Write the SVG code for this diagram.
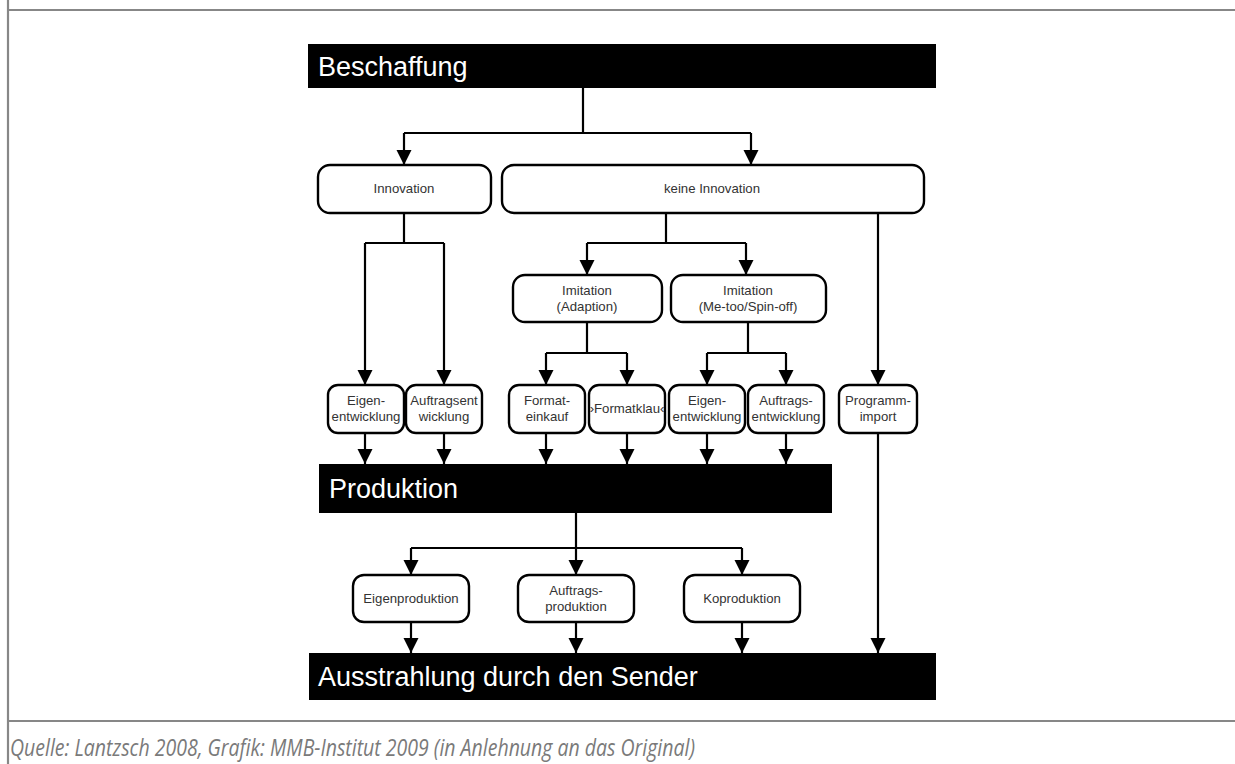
<svg xmlns="http://www.w3.org/2000/svg" width="1235" height="764" viewBox="0 0 1235 764">
<style>
.frame{stroke:#878787;stroke-width:2.2;fill:none}
.bar{fill:#000}
.bt{fill:#fff;font-family:"Liberation Sans",Arial,sans-serif;font-size:27px}
.box{fill:#fff;stroke:#000;stroke-width:2.4}
.t{fill:#333;font-family:"Liberation Sans",Arial,sans-serif;font-size:13.2px;text-anchor:middle}
.ln{fill:none;stroke:#000;stroke-width:2.2}
.ar{fill:none;stroke:#000;stroke-width:2.2;marker-end:url(#ah)}
.cap{fill:#7a7a7a;font-family:"Open Sans","Liberation Sans",sans-serif;font-style:italic;font-size:23px}
</style>
<defs>
<marker id="ah" markerUnits="userSpaceOnUse" markerWidth="16" markerHeight="16" refX="15" refY="7.5" orient="auto">
<path d="M0,0 L15,7.5 L0,15 Z" fill="#000"/>
</marker>
</defs>
<rect width="1235" height="764" fill="#fff"/>
<g id="frame">
<line class="frame" x1="8" y1="0" x2="8" y2="764"/>
<line class="frame" x1="8" y1="10" x2="1235" y2="10"/>
<line class="frame" x1="8" y1="721" x2="1235" y2="721"/>
</g>
<g id="connectors">
<path class="ln" d="M583,88 V133 M404,133 H751"/>
<path class="ar" d="M404,133 V165"/>
<path class="ar" d="M751,133 V165"/>
<path class="ln" d="M404,213 V243 M365,243 H444"/>
<path class="ar" d="M365,243 V385"/>
<path class="ar" d="M444,243 V385"/>
<path class="ln" d="M666,213 V243 M587,243 H746"/>
<path class="ar" d="M587,243 V275"/>
<path class="ar" d="M746,243 V275"/>
<path class="ar" d="M878,213 V385"/>
<path class="ln" d="M587,322 V353 M546,353 H627"/>
<path class="ar" d="M546,353 V385"/>
<path class="ar" d="M627,353 V385"/>
<path class="ln" d="M748,322 V353 M707,353 H786"/>
<path class="ar" d="M707,353 V385"/>
<path class="ar" d="M786,353 V385"/>
<path class="ar" d="M365,433 V464"/>
<path class="ar" d="M444,433 V464"/>
<path class="ar" d="M546,433 V464"/>
<path class="ar" d="M627,433 V464"/>
<path class="ar" d="M707,433 V464"/>
<path class="ar" d="M786,433 V464"/>
<path class="ar" d="M878,433 V653"/>
<path class="ln" d="M576,513 V548 M411,548 H742"/>
<path class="ar" d="M411,548 V575"/>
<path class="ar" d="M576,548 V575"/>
<path class="ar" d="M742,548 V575"/>
<path class="ar" d="M411,622 V653"/>
<path class="ar" d="M576,622 V653"/>
<path class="ar" d="M742,622 V653"/>
</g>
<g id="beschaffung">
<rect class="bar" x="308" y="44" width="628" height="44"/>
<text class="bt" x="318" y="76">Beschaffung</text>
</g>
<g id="innovation">
<rect class="box" x="318" y="165" width="173" height="48" rx="12"/>
<text class="t" x="404" y="193">Innovation</text>
</g>
<g id="keine-innovation">
<rect class="box" x="502" y="165" width="422" height="48" rx="12"/>
<text class="t" x="712" y="193">keine Innovation</text>
</g>
<g id="imitation-adaption">
<rect class="box" x="513" y="275" width="149" height="47" rx="12"/>
<text class="t" x="587" y="295">Imitation</text>
<text class="t" x="587" y="311">(Adaption)</text>
</g>
<g id="imitation-metoo">
<rect class="box" x="671" y="275" width="155" height="47" rx="12"/>
<text class="t" x="748" y="295">Imitation</text>
<text class="t" x="748" y="311">(Me-too/Spin-off)</text>
</g>
<g id="eigenentwicklung-1">
<rect class="box" x="328" y="385" width="76" height="48" rx="10"/>
<text class="t" x="366" y="405">Eigen-</text>
<text class="t" x="366" y="421">entwicklung</text>
</g>
<g id="auftragsentwicklung-1">
<rect class="box" x="406" y="385" width="76" height="48" rx="10"/>
<text class="t" x="444" y="405">Auftragsent</text>
<text class="t" x="444" y="421">wicklung</text>
</g>
<g id="formateinkauf">
<rect class="box" x="509" y="385" width="76" height="48" rx="10"/>
<text class="t" x="547" y="405">Format-</text>
<text class="t" x="547" y="421">einkauf</text>
</g>
<g id="formatklau">
<rect class="box" x="589" y="385" width="76" height="48" rx="10"/>
<text class="t" x="627" y="413">›Formatklau‹</text>
</g>
<g id="eigenentwicklung-2">
<rect class="box" x="669" y="385" width="76" height="48" rx="10"/>
<text class="t" x="707" y="405">Eigen-</text>
<text class="t" x="707" y="421">entwicklung</text>
</g>
<g id="auftragsentwicklung-2">
<rect class="box" x="748" y="385" width="76" height="48" rx="10"/>
<text class="t" x="786" y="405">Auftrags-</text>
<text class="t" x="786" y="421">entwicklung</text>
</g>
<g id="programmimport">
<rect class="box" x="839" y="385" width="78" height="48" rx="10"/>
<text class="t" x="878" y="405">Programm-</text>
<text class="t" x="878" y="421">import</text>
</g>
<g id="produktion">
<rect class="bar" x="319" y="464" width="513" height="49"/>
<text class="bt" x="329" y="498">Produktion</text>
</g>
<g id="eigenproduktion">
<rect class="box" x="353" y="575" width="116" height="47" rx="11"/>
<text class="t" x="411" y="603">Eigenproduktion</text>
</g>
<g id="auftragsproduktion">
<rect class="box" x="518" y="575" width="116" height="47" rx="11"/>
<text class="t" x="576" y="595">Auftrags-</text>
<text class="t" x="576" y="611">produktion</text>
</g>
<g id="koproduktion">
<rect class="box" x="684" y="575" width="116" height="47" rx="11"/>
<text class="t" x="742" y="603">Koproduktion</text>
</g>
<g id="ausstrahlung">
<rect class="bar" x="309" y="653" width="627" height="47"/>
<text class="bt" x="318" y="686">Ausstrahlung durch den Sender</text>
</g>
<text class="cap" x="10" y="756" textLength="685" lengthAdjust="spacingAndGlyphs">Quelle: Lantzsch 2008, Grafik: MMB-Institut 2009 (in Anlehnung an das Original)</text>
</svg>
